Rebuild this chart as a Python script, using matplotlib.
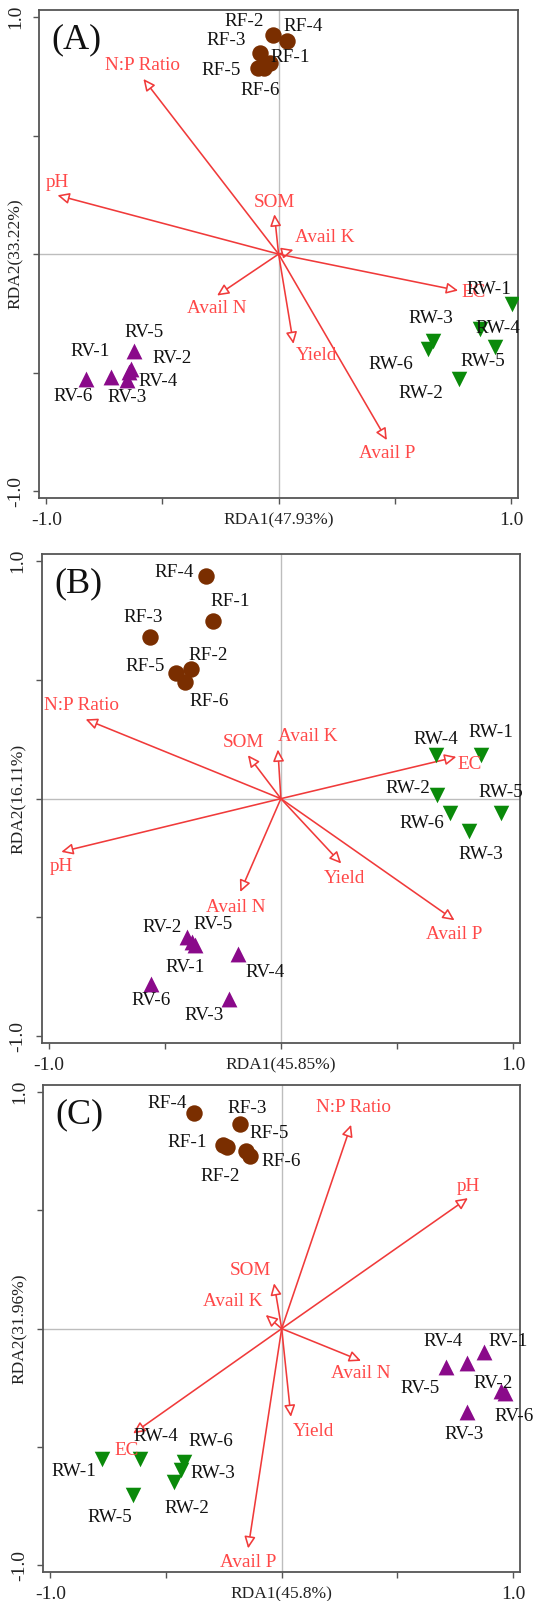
import matplotlib
matplotlib.use("Agg")
import matplotlib.pyplot as plt
from matplotlib.patches import FancyArrowPatch

plt.rcParams['font.family'] = ['Liberation Serif', 'DejaVu Serif']

# ---------------- data ----------------
panel_names = ['(A)', '(B)', '(C)']
rda1_pct = ['47.93', '45.85', '45.8']
rda2_pct = ['33.22', '16.11', '31.96']

env_vars = ['N:P Ratio', 'pH', 'SOM', 'Avail K', 'EC', 'Avail N', 'Yield', 'Avail P']
sample_ids = ['1', '2', '3', '4', '5', '6']

# Panel A
A_env_x = [-0.582, -0.952, -0.018, 0.064, 0.773, -0.265, 0.064, 0.466]
A_env_y = [0.739, 0.248, 0.168, 0.018, -0.154, -0.175, -0.379, -0.785]
A_RF_x = [-0.036, -0.024, -0.082, 0.036, -0.090, -0.064]
A_RF_y = [0.806, 0.926, 0.849, 0.900, 0.785, 0.785]
A_RV_x = [-0.723, -0.634, -0.654, -0.646, -0.623, -0.830]
A_RV_y = [-0.519, -0.484, -0.533, -0.498, -0.407, -0.529]
A_RW_x = [1.003, 0.778, 0.666, 0.866, 0.931, 0.644]
A_RW_y = [-0.210, -0.526, -0.365, -0.316, -0.393, -0.400]

# Panel B
B_env_x = [-0.841, -0.946, -0.142, -0.013, 0.756, -0.175, 0.260, 0.748]
B_env_y = [0.334, -0.224, 0.183, 0.207, 0.176, -0.393, -0.273, -0.512]
B_RF_x = [-0.292, -0.386, -0.562, -0.321, -0.453, -0.414]
B_RF_y = [0.749, 0.544, 0.679, 0.937, 0.527, 0.492]
B_RV_x = [-0.371, -0.406, -0.223, -0.185, -0.384, -0.558]
B_RV_y = [-0.617, -0.584, -0.842, -0.655, -0.605, -0.779]
B_RW_x = [0.863, 0.672, 0.810, 0.669, 0.949, 0.727]
B_RW_y = [0.183, 0.015, -0.136, 0.183, -0.062, -0.060]

# Panel C
C_env_x = [0.300, 0.805, -0.033, -0.069, -0.642, 0.343, 0.040, -0.145]
C_env_y = [0.862, 0.552, 0.192, 0.058, -0.443, -0.136, -0.373, -0.929]
C_RF_x = [-0.252, -0.235, -0.180, -0.379, -0.155, -0.137]
C_RF_y = [0.777, 0.767, 0.866, 0.911, 0.749, 0.728]
C_RV_x = [0.874, 0.949, 0.802, 0.802, 0.711, 0.964]
C_RV_y = [-0.098, -0.262, -0.351, -0.144, -0.161, -0.271]
C_RW_x = [-0.776, -0.466, -0.437, -0.613, -0.642, -0.423]
C_RW_y = [-0.553, -0.648, -0.598, -0.553, -0.704, -0.563]

# ---------------- layout (label offsets in pixels) ----------------
A_RF_off = [(20, 6), (-29, 13), (-33, 12), (16, 14), (-37, -2), (-3, -22)]
A_RV_off = [(-20, 26), (41, 10), (0, -17), (30, -9), (10, 18), (-13, -17)]
A_RW_off = [(-23, 14), (-38, -15), (-2, 22), (18, 0), (-12, -14), (-37, -16)]
A_env_off = [(-1, 13), (0, 13), (0, 12), (31, 12), (15, -2), (0, -13), (23, -12), (0, -13)]

B_RF_off = [(17, 19), (17, 14), (-7, 20), (-32, 4), (-31, 7), (24, -20)]
B_RV_off = [(-10, -22), (-25, 10), (-25, -17), (27, -18), (21, 18), (0, -17)]
B_RW_off = [(10, 23), (-29, 7), (12, -24), (0, 16), (0, 21), (-28, -11)]
B_env_off = [(-4, 14), (0, -15), (-5, 13), (30, 13), (13, -8), (-4, -15), (3, -15), (0, -14)]

C_RF_off = [(-36, 2), (-7, -29), (7, 15), (-27, 10), (23, 18), (31, -5)]
C_RV_off = [(24, 10), (-8, 7), (-3, -23), (-24, 21), (-26, -22), (9, -24)]
C_RW_off = [(-28, -12), (13, -27), (32, -3), (16, 23), (-23, -22), (27, 20)]
C_env_off = [(2, 17), (0, 12), (-24, 13), (-33, 13), (-6, -17), (0, -13), (23, -15), (0, -14)]

panel_rects = [
    [0.0735, 0.6888, 0.8945, 0.3050],
    [0.0780, 0.3483, 0.8940, 0.3057],
    [0.0810, 0.0179, 0.8910, 0.3044],
]

COL_RF = '#7A2E00'
COL_RV = '#8A0A8A'
COL_RW = '#0A8A0A'
COL_ARROW = '#F03A3A'
COL_ENVTXT = '#FF4848'
COL_FRAME = '#555555'
FS = 13.8

fig = plt.figure(figsize=(5.35, 16.01), dpi=100)

panels = [
    (A_env_x, A_env_y, A_env_off,
     [(A_RF_x, A_RF_y, A_RF_off), (A_RV_x, A_RV_y, A_RV_off), (A_RW_x, A_RW_y, A_RW_off)]),
    (B_env_x, B_env_y, B_env_off,
     [(B_RF_x, B_RF_y, B_RF_off), (B_RV_x, B_RV_y, B_RV_off), (B_RW_x, B_RW_y, B_RW_off)]),
    (C_env_x, C_env_y, C_env_off,
     [(C_RF_x, C_RF_y, C_RF_off), (C_RV_x, C_RV_y, C_RV_off), (C_RW_x, C_RW_y, C_RW_off)]),
]
groups = [('RF', COL_RF, 'o', 140), ('RV', COL_RV, '^', 130), ('RW', COL_RW, 'v', 125)]

for i, (ex, ey, eoff, grp) in enumerate(panels):
    ax = fig.add_axes(panel_rects[i])
    ax.set_xlim(-1.03, 1.03)
    ax.set_ylim(-1.03, 1.03)
    ax.axvline(0, color='#BDBDBD', lw=1.0, zorder=0)
    ax.axhline(0, color='#BDBDBD', lw=1.0, zorder=0)

    # environmental arrows
    for name, x, y, off in zip(env_vars, ex, ey, eoff):
        arr = FancyArrowPatch((0, 0), (x, y),
                              arrowstyle='-|>,head_length=0.7,head_width=0.33',
                              mutation_scale=10, fc='white', ec=COL_ARROW,
                              lw=1.15, shrinkA=0, shrinkB=0, zorder=2)
        ax.add_patch(arr)
        ax.annotate(name, xy=(x, y), xytext=off, textcoords='offset pixels',
                    ha='center', va='center', color=COL_ENVTXT, fontsize=FS,
                    zorder=4)

    # samples
    for (prefix, col, mk, sz), (sx, sy, soff) in zip(groups, grp):
        ax.scatter(sx, sy, s=sz, c=col, marker=mk, linewidths=0, zorder=3)
        for sid, x, y, off in zip(sample_ids, sx, sy, soff):
            ax.annotate(f'{prefix}-{sid}', xy=(x, y), xytext=off,
                        textcoords='offset pixels', ha='center', va='center',
                        color='#111111', fontsize=FS, zorder=5,
                        annotation_clip=False)

    ax.text(0.026, 0.938, panel_names[i], transform=ax.transAxes,
            ha='left', va='center', fontsize=26, color='#111111')

    for sp in ax.spines.values():
        sp.set_color(COL_FRAME)
        sp.set_linewidth(1.3)

    ticks = [-1.0, -0.5, 0.0, 0.5, 1.0]
    ax.set_xticks(ticks)
    ax.set_yticks(ticks)
    xl = ax.set_xticklabels(['-1.0', '', f'RDA1({rda1_pct[i]}%)', '', '1.0'], fontsize=14)
    yl = ax.set_yticklabels(['-1.0', '', f'RDA2({rda2_pct[i]}%)', '', '1.0'],
                            fontsize=14, rotation=90, va='center')
    xl[2].set_fontsize(12.5)
    yl[2].set_fontsize(12.5)
    ax.tick_params(axis='both', direction='out', length=4, width=1.0,
                   color=COL_FRAME, labelcolor='#222222')
    ax.tick_params(axis='x', pad=6)
    ax.tick_params(axis='y', pad=7)

fig.savefig('out.png', dpi=100)
